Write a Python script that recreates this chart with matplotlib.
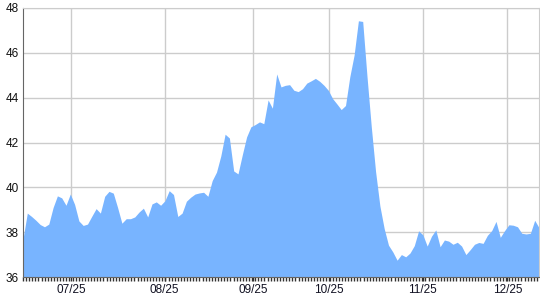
import matplotlib
matplotlib.use("Agg")
import matplotlib.pyplot as plt
from matplotlib.ticker import MultipleLocator, FixedLocator
import numpy as np

values = [
    37.7, 38.85, 38.7, 38.53, 38.34, 38.24, 38.36, 39.1, 39.62, 39.53,
    39.2, 39.7, 39.24, 38.5, 38.3, 38.36, 38.71, 39.05, 38.85, 39.6,
    39.82, 39.74, 39.1, 38.4, 38.6, 38.6, 38.68, 38.9, 39.07, 38.68,
    39.26, 39.35, 39.2, 39.4, 39.85, 39.68, 38.7, 38.85, 39.38, 39.56,
    39.7, 39.75, 39.78, 39.6, 40.3, 40.68, 41.4, 42.37, 42.2, 40.73,
    40.6, 41.45, 42.25, 42.7, 42.8, 42.92, 42.84, 43.9, 43.53, 45.06,
    44.48, 44.55, 44.58, 44.33, 44.27, 44.4, 44.65, 44.75, 44.86, 44.73,
    44.55, 44.33, 43.96, 43.72, 43.47, 43.65, 44.93, 45.9, 47.43, 47.4,
    44.95, 42.7, 40.7, 39.17, 38.16, 37.42, 37.12, 36.75, 37.0, 36.9,
    37.07, 37.4, 38.06, 37.88, 37.38, 37.82, 38.1, 37.35, 37.65, 37.6,
    37.46, 37.55, 37.38, 37.0, 37.22, 37.46, 37.54, 37.5, 37.86, 38.07,
    38.48, 37.77, 38.07, 38.33, 38.31, 38.24, 37.95, 37.92, 37.95, 38.53,
    38.2,
]
tick_labels = ["07/25", "08/25", "09/25", "10/25", "11/25", "12/25"]
tick_index = [11.16, 32.95, 53.56, 71.23, 92.95, 112.63]
y_ticks = [36, 38, 40, 42, 44, 46, 48]

x = np.arange(len(values))

fig = plt.figure(figsize=(5.4, 3.0), dpi=100)
ax = fig.add_axes([23/540, 1 - 277/300, (539 - 23)/540, (277 - 8)/300])
ax.fill_between(x, 36, values, color="#78b4ff", linewidth=0, zorder=2)

ax.set_xlim(0, len(values) - 1)
ax.set_ylim(36, 48)
ax.set_yticks(y_ticks)
ax.xaxis.set_major_locator(FixedLocator(tick_index))
ax.set_xticklabels(tick_labels)
ax.xaxis.set_minor_locator(MultipleLocator(0.72))

ax.grid(True, which="major", color="#cccccc", linewidth=1.0, zorder=1)
ax.set_axisbelow(True)

for s in ["top", "right"]:
    ax.spines[s].set_color("#cccccc")
ax.spines["left"].set_color("#666666")
ax.spines["bottom"].set_color("#666666")

ax.tick_params(axis="y", length=0, pad=3, labelsize=8.5, labelcolor="#111111")
ax.tick_params(axis="x", which="major", length=3, width=1, color="#333333",
               pad=2, labelsize=8.5, labelcolor="#111122")
ax.tick_params(axis="x", which="minor", length=3, width=1, color="#333333")
for lab in ax.get_xticklabels() + ax.get_yticklabels():
    lab.set_fontfamily("Liberation Sans")

fig.savefig("out.png", dpi=100)
